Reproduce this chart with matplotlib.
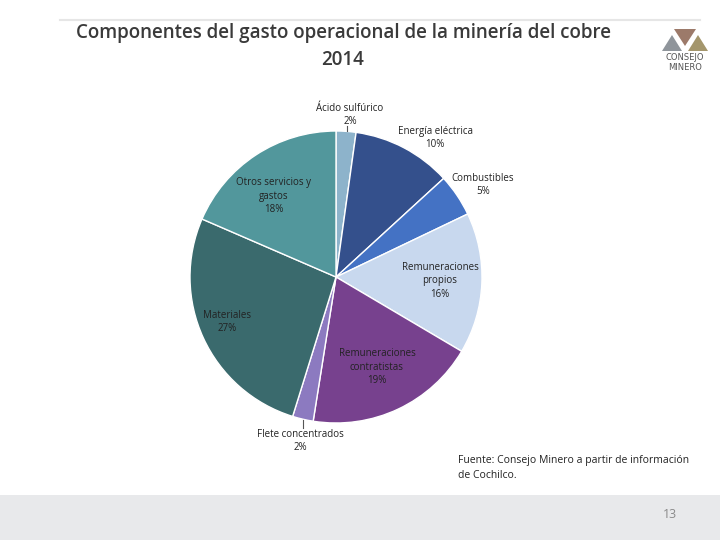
import matplotlib.pyplot as plt
from matplotlib.patches import Polygon, Rectangle
from matplotlib.lines import Line2D

# Slice data (clockwise from 12 o'clock), shares
categories = ['Ácido sulfúrico', 'Energía eléctrica', 'Combustibles',
              'Remuneraciones\npropios', 'Remuneraciones\ncontratistas',
              'Flete concentrados', 'Materiales', 'Otros servicios y\ngastos']
shares = [2.2, 11.0, 4.7, 15.6, 19.0, 2.3, 26.7, 18.5]
pct_labels = ['2%', '10%', '5%', '16%', '19%', '2%', '27%', '18%']
colors = ['#8DB3CB', '#34508C', '#4472C4', '#C8D8EE',
          '#77418E', '#8C7AC0', '#3A6A6D', '#52979C']

W, H = 720, 540
fig = plt.figure(figsize=(W / 100, H / 100), dpi=100)
fig.patch.set_facecolor('white')

def fx(px):
    return px / W

def fy(py):
    return 1 - py / H

# header line and footer band
fig.add_artist(Line2D([fx(60), fx(700)], [fy(20), fy(20)], color='#E6E6E6', lw=1.5))
fig.add_artist(Rectangle((0, 0), 1, fy(495), transform=fig.transFigure,
                         facecolor='#E8E9EB', edgecolor='none'))
fig.text(fx(670), fy(515), '13', ha='center', va='center', fontsize=9,
         color='#8A8A8A', family='Open Sans')

# title
fig.text(fx(343), fy(33), 'Componentes del gasto operacional de la minería del cobre',
         ha='center', va='center', fontsize=13.5, color='#3A3A3A', family='Open Sans',
         fontweight='semibold')
fig.text(fx(343), fy(60), '2014', ha='center', va='center', fontsize=13.5,
         color='#3A3A3A', family='Open Sans', fontweight='semibold')

# logo
fig.add_artist(Polygon([(fx(674), fy(29)), (fx(696), fy(29)), (fx(685), fy(46))],
                       closed=True, transform=fig.transFigure,
                       facecolor='#9C7A6A', edgecolor='none'))
fig.add_artist(Polygon([(fx(662), fy(51)), (fx(682), fy(51)), (fx(672), fy(35))],
                       closed=True, transform=fig.transFigure,
                       facecolor='#8F959B', edgecolor='none'))
fig.add_artist(Polygon([(fx(688), fy(51)), (fx(708), fy(51)), (fx(698), fy(35))],
                       closed=True, transform=fig.transFigure,
                       facecolor='#A4966C', edgecolor='none'))
fig.text(fx(685), fy(58), 'CONSEJO', ha='center', va='center', fontsize=6,
         color='#555555', family='DejaVu Sans')
fig.text(fx(685), fy(67), 'MINERO', ha='center', va='center', fontsize=6,
         color='#555555', family='DejaVu Sans')

# pie
cx, cy, r = 336, 277, 146
ax = fig.add_axes([fx(cx - r), fy(cy + r), 2 * r / W, 2 * r / H])
ax.pie(shares, colors=colors, startangle=90, counterclock=False, radius=1,
       wedgeprops=dict(edgecolor='white', linewidth=1))
ax.set_xlim(-1, 1)
ax.set_ylim(-1, 1)
ax.set_aspect('equal')
ax.axis('off')

label_pos = [(350, 115), (435, 138), (483, 185), (440, 281),
             (377, 367), (300, 441), (227, 322), (274, 196)]
for name, pct, (px, py) in zip(categories, pct_labels, label_pos):
    fig.text(fx(px), fy(py), name + '\n' + pct, ha='center', va='center',
             fontsize=7, color='#222222', family='Open Sans', linespacing=1.35)

# leader ticks
fig.add_artist(Line2D([fx(347), fx(347)], [fy(126), fy(131)], color='#555555', lw=0.8))
fig.add_artist(Line2D([fx(303), fx(303)], [fy(420), fy(428)], color='#555555', lw=0.8))

# source
fig.text(fx(458), fy(468), 'Fuente: Consejo Minero a partir de información\nde Cochilco.',
         ha='left', va='center', fontsize=7.5, color='#222222', family='Open Sans',
         linespacing=1.5)

fig.savefig('out.png', dpi=100)
